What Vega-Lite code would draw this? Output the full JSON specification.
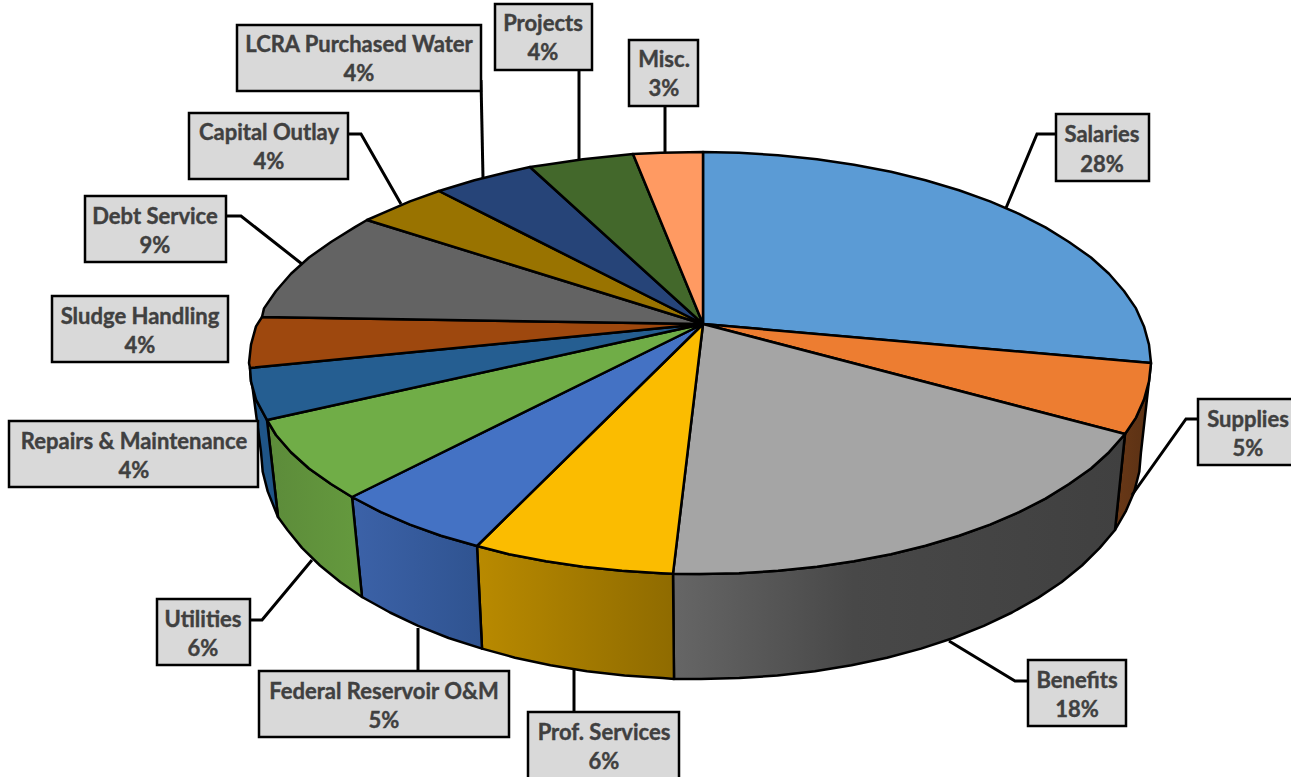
{"$schema":"https://vega.github.io/schema/vega-lite/v6.json","width":1291,"height":777,"padding":0,"autosize":{"type":"fit","contains":"padding"},"background":"white","view":{"stroke":null},
"datasets":{
"side":[
{"slice":"Supplies","i":0,"x":1151,"y":363},{"slice":"Supplies","i":1,"x":1149,"y":381.4},{"slice":"Supplies","i":2,"x":1144,"y":399.6},{"slice":"Supplies","i":3,"x":1136,"y":417.6},{"slice":"Supplies","i":4,"x":1125,"y":434},{"slice":"Supplies","i":5,"x":1115,"y":530},{"slice":"Supplies","i":6,"x":1126,"y":510.8},{"slice":"Supplies","i":7,"x":1134.3,"y":491.4},{"slice":"Supplies","i":8,"x":1139.3,"y":471.8},{"slice":"Supplies","i":9,"x":1141,"y":452},{"slice":"Supplies","i":10,"x":1151,"y":363},
{"slice":"Benefits","i":0,"x":1125,"y":434},{"slice":"Benefits","i":1,"x":1109,"y":452.2},{"slice":"Benefits","i":2,"x":1091,"y":468.5},{"slice":"Benefits","i":3,"x":1069,"y":484},{"slice":"Benefits","i":4,"x":1045.5,"y":498.6},{"slice":"Benefits","i":5,"x":1019,"y":512.2},{"slice":"Benefits","i":6,"x":990,"y":524.6},{"slice":"Benefits","i":7,"x":959,"y":535.8},{"slice":"Benefits","i":8,"x":925.5,"y":545.7},{"slice":"Benefits","i":9,"x":891,"y":554.2},{"slice":"Benefits","i":10,"x":854,"y":561.3},{"slice":"Benefits","i":11,"x":817,"y":566.8},{"slice":"Benefits","i":12,"x":778,"y":570.8},{"slice":"Benefits","i":13,"x":739,"y":573.2},{"slice":"Benefits","i":14,"x":700,"y":574},{"slice":"Benefits","i":15,"x":673,"y":573.7},{"slice":"Benefits","i":16,"x":674,"y":679},{"slice":"Benefits","i":17,"x":701,"y":679},{"slice":"Benefits","i":18,"x":739.3,"y":678.1},{"slice":"Benefits","i":19,"x":777.4,"y":675.6},{"slice":"Benefits","i":20,"x":814.9,"y":671.3},{"slice":"Benefits","i":21,"x":851.5,"y":665.3},{"slice":"Benefits","i":22,"x":887,"y":657.7},{"slice":"Benefits","i":23,"x":921,"y":648.6},{"slice":"Benefits","i":24,"x":953.4,"y":638},{"slice":"Benefits","i":25,"x":983.8,"y":625.9},{"slice":"Benefits","i":26,"x":1012,"y":612.5},{"slice":"Benefits","i":27,"x":1038,"y":597.9},{"slice":"Benefits","i":28,"x":1061.4,"y":582.2},{"slice":"Benefits","i":29,"x":1082,"y":565.5},{"slice":"Benefits","i":30,"x":1099.8,"y":547.9},{"slice":"Benefits","i":31,"x":1115,"y":530},{"slice":"Benefits","i":32,"x":1125,"y":434},
{"slice":"Prof. Services","i":0,"x":673,"y":573.7},{"slice":"Prof. Services","i":1,"x":661,"y":573.2},{"slice":"Prof. Services","i":2,"x":622,"y":570.8},{"slice":"Prof. Services","i":3,"x":583,"y":566.8},{"slice":"Prof. Services","i":4,"x":546,"y":561.3},{"slice":"Prof. Services","i":5,"x":509,"y":554.2},{"slice":"Prof. Services","i":6,"x":477,"y":546},{"slice":"Prof. Services","i":7,"x":482,"y":648.6},{"slice":"Prof. Services","i":8,"x":515,"y":657.7},{"slice":"Prof. Services","i":9,"x":550.5,"y":665.3},{"slice":"Prof. Services","i":10,"x":587,"y":671.3},{"slice":"Prof. Services","i":11,"x":624.6,"y":675.6},{"slice":"Prof. Services","i":12,"x":662.7,"y":678.1},{"slice":"Prof. Services","i":13,"x":674,"y":679},{"slice":"Prof. Services","i":14,"x":673,"y":573.7},
{"slice":"Federal Reservoir O&M","i":0,"x":477,"y":546},{"slice":"Federal Reservoir O&M","i":1,"x":441,"y":535.8},{"slice":"Federal Reservoir O&M","i":2,"x":410,"y":524.6},{"slice":"Federal Reservoir O&M","i":3,"x":381,"y":512.2},{"slice":"Federal Reservoir O&M","i":4,"x":352,"y":497},{"slice":"Federal Reservoir O&M","i":5,"x":362,"y":597},{"slice":"Federal Reservoir O&M","i":6,"x":390,"y":612.5},{"slice":"Federal Reservoir O&M","i":7,"x":418.2,"y":625.9},{"slice":"Federal Reservoir O&M","i":8,"x":448.6,"y":638},{"slice":"Federal Reservoir O&M","i":9,"x":482,"y":648.6},{"slice":"Federal Reservoir O&M","i":10,"x":477,"y":546},
{"slice":"Utilities","i":0,"x":352,"y":497},{"slice":"Utilities","i":1,"x":331,"y":484},{"slice":"Utilities","i":2,"x":309,"y":468.5},{"slice":"Utilities","i":3,"x":291,"y":452.2},{"slice":"Utilities","i":4,"x":276,"y":435},{"slice":"Utilities","i":5,"x":267,"y":420},{"slice":"Utilities","i":6,"x":278,"y":517},{"slice":"Utilities","i":7,"x":287.5,"y":530},{"slice":"Utilities","i":8,"x":302,"y":547.9},{"slice":"Utilities","i":9,"x":320,"y":565.5},{"slice":"Utilities","i":10,"x":340.6,"y":582.2},{"slice":"Utilities","i":11,"x":362,"y":597},{"slice":"Utilities","i":12,"x":352,"y":497},
{"slice":"Repairs & Maintenance","i":0,"x":267,"y":420},{"slice":"Repairs & Maintenance","i":1,"x":256,"y":399.6},{"slice":"Repairs & Maintenance","i":2,"x":251,"y":381.4},{"slice":"Repairs & Maintenance","i":3,"x":250,"y":368},{"slice":"Repairs & Maintenance","i":4,"x":261,"y":452},{"slice":"Repairs & Maintenance","i":5,"x":262.7,"y":471.8},{"slice":"Repairs & Maintenance","i":6,"x":267.7,"y":491.4},{"slice":"Repairs & Maintenance","i":7,"x":278,"y":517},{"slice":"Repairs & Maintenance","i":8,"x":267,"y":420}
],
"top":[
{"slice":"Salaries","i":0,"x":703,"y":324},{"slice":"Salaries","i":1,"x":703,"y":152},{"slice":"Salaries","i":2,"x":739,"y":152.8},{"slice":"Salaries","i":3,"x":778,"y":155.2},{"slice":"Salaries","i":4,"x":817,"y":159.2},{"slice":"Salaries","i":5,"x":854,"y":164.7},{"slice":"Salaries","i":6,"x":891,"y":171.8},{"slice":"Salaries","i":7,"x":925.5,"y":180.3},{"slice":"Salaries","i":8,"x":959,"y":190.2},{"slice":"Salaries","i":9,"x":990,"y":201.4},{"slice":"Salaries","i":10,"x":1019,"y":213.8},{"slice":"Salaries","i":11,"x":1045.5,"y":227.4},{"slice":"Salaries","i":12,"x":1069,"y":242},{"slice":"Salaries","i":13,"x":1091,"y":257.5},{"slice":"Salaries","i":14,"x":1109,"y":273.8},{"slice":"Salaries","i":15,"x":1124,"y":291},{"slice":"Salaries","i":16,"x":1136,"y":308.4},{"slice":"Salaries","i":17,"x":1144,"y":326.4},{"slice":"Salaries","i":18,"x":1149,"y":344.6},{"slice":"Salaries","i":19,"x":1151,"y":363},{"slice":"Salaries","i":20,"x":703,"y":324},
{"slice":"Supplies","i":0,"x":703,"y":324},{"slice":"Supplies","i":1,"x":1151,"y":363},{"slice":"Supplies","i":2,"x":1149,"y":381.4},{"slice":"Supplies","i":3,"x":1144,"y":399.6},{"slice":"Supplies","i":4,"x":1136,"y":417.6},{"slice":"Supplies","i":5,"x":1125,"y":434},{"slice":"Supplies","i":6,"x":703,"y":324},
{"slice":"Benefits","i":0,"x":703,"y":324},{"slice":"Benefits","i":1,"x":1125,"y":434},{"slice":"Benefits","i":2,"x":1109,"y":452.2},{"slice":"Benefits","i":3,"x":1091,"y":468.5},{"slice":"Benefits","i":4,"x":1069,"y":484},{"slice":"Benefits","i":5,"x":1045.5,"y":498.6},{"slice":"Benefits","i":6,"x":1019,"y":512.2},{"slice":"Benefits","i":7,"x":990,"y":524.6},{"slice":"Benefits","i":8,"x":959,"y":535.8},{"slice":"Benefits","i":9,"x":925.5,"y":545.7},{"slice":"Benefits","i":10,"x":891,"y":554.2},{"slice":"Benefits","i":11,"x":854,"y":561.3},{"slice":"Benefits","i":12,"x":817,"y":566.8},{"slice":"Benefits","i":13,"x":778,"y":570.8},{"slice":"Benefits","i":14,"x":739,"y":573.2},{"slice":"Benefits","i":15,"x":700,"y":574},{"slice":"Benefits","i":16,"x":673,"y":573.7},{"slice":"Benefits","i":17,"x":703,"y":324},
{"slice":"Prof. Services","i":0,"x":703,"y":324},{"slice":"Prof. Services","i":1,"x":673,"y":573.7},{"slice":"Prof. Services","i":2,"x":661,"y":573.2},{"slice":"Prof. Services","i":3,"x":622,"y":570.8},{"slice":"Prof. Services","i":4,"x":583,"y":566.8},{"slice":"Prof. Services","i":5,"x":546,"y":561.3},{"slice":"Prof. Services","i":6,"x":509,"y":554.2},{"slice":"Prof. Services","i":7,"x":477,"y":546},{"slice":"Prof. Services","i":8,"x":703,"y":324},
{"slice":"Federal Reservoir O&M","i":0,"x":703,"y":324},{"slice":"Federal Reservoir O&M","i":1,"x":477,"y":546},{"slice":"Federal Reservoir O&M","i":2,"x":441,"y":535.8},{"slice":"Federal Reservoir O&M","i":3,"x":410,"y":524.6},{"slice":"Federal Reservoir O&M","i":4,"x":381,"y":512.2},{"slice":"Federal Reservoir O&M","i":5,"x":352,"y":497},{"slice":"Federal Reservoir O&M","i":6,"x":703,"y":324},
{"slice":"Utilities","i":0,"x":703,"y":324},{"slice":"Utilities","i":1,"x":352,"y":497},{"slice":"Utilities","i":2,"x":331,"y":484},{"slice":"Utilities","i":3,"x":309,"y":468.5},{"slice":"Utilities","i":4,"x":291,"y":452.2},{"slice":"Utilities","i":5,"x":276,"y":435},{"slice":"Utilities","i":6,"x":267,"y":420},{"slice":"Utilities","i":7,"x":703,"y":324},
{"slice":"Repairs & Maintenance","i":0,"x":703,"y":324},{"slice":"Repairs & Maintenance","i":1,"x":267,"y":420},{"slice":"Repairs & Maintenance","i":2,"x":256,"y":399.6},{"slice":"Repairs & Maintenance","i":3,"x":251,"y":381.4},{"slice":"Repairs & Maintenance","i":4,"x":250,"y":368},{"slice":"Repairs & Maintenance","i":5,"x":703,"y":324},
{"slice":"Sludge Handling","i":0,"x":703,"y":324},{"slice":"Sludge Handling","i":1,"x":250,"y":368},{"slice":"Sludge Handling","i":2,"x":249,"y":363},{"slice":"Sludge Handling","i":3,"x":251,"y":344.6},{"slice":"Sludge Handling","i":4,"x":256,"y":326.4},{"slice":"Sludge Handling","i":5,"x":262,"y":317},{"slice":"Sludge Handling","i":6,"x":703,"y":324},
{"slice":"Debt Service","i":0,"x":703,"y":324},{"slice":"Debt Service","i":1,"x":262,"y":317},{"slice":"Debt Service","i":2,"x":264,"y":308.4},{"slice":"Debt Service","i":3,"x":276,"y":291},{"slice":"Debt Service","i":4,"x":291,"y":273.8},{"slice":"Debt Service","i":5,"x":309,"y":257.5},{"slice":"Debt Service","i":6,"x":331,"y":242},{"slice":"Debt Service","i":7,"x":354.5,"y":227.4},{"slice":"Debt Service","i":8,"x":367,"y":220},{"slice":"Debt Service","i":9,"x":703,"y":324},
{"slice":"Capital Outlay","i":0,"x":703,"y":324},{"slice":"Capital Outlay","i":1,"x":367,"y":220},{"slice":"Capital Outlay","i":2,"x":381,"y":213.8},{"slice":"Capital Outlay","i":3,"x":410,"y":201.4},{"slice":"Capital Outlay","i":4,"x":439,"y":191},{"slice":"Capital Outlay","i":5,"x":703,"y":324},
{"slice":"LCRA Purchased Water","i":0,"x":703,"y":324},{"slice":"LCRA Purchased Water","i":1,"x":439,"y":191},{"slice":"LCRA Purchased Water","i":2,"x":474.5,"y":180.3},{"slice":"LCRA Purchased Water","i":3,"x":509,"y":171.8},{"slice":"LCRA Purchased Water","i":4,"x":530,"y":167},{"slice":"LCRA Purchased Water","i":5,"x":703,"y":324},
{"slice":"Projects","i":0,"x":703,"y":324},{"slice":"Projects","i":1,"x":530,"y":167},{"slice":"Projects","i":2,"x":546,"y":164.7},{"slice":"Projects","i":3,"x":583,"y":159.2},{"slice":"Projects","i":4,"x":633,"y":154},{"slice":"Projects","i":5,"x":703,"y":324},
{"slice":"Misc.","i":0,"x":703,"y":324},{"slice":"Misc.","i":1,"x":633,"y":154},{"slice":"Misc.","i":2,"x":661,"y":152.8},{"slice":"Misc.","i":3,"x":703,"y":152},{"slice":"Misc.","i":4,"x":703,"y":324}
],
"leader":[
{"slice":"Salaries","i":0,"x":1056,"y":134},{"slice":"Salaries","i":1,"x":1037,"y":134},{"slice":"Salaries","i":2,"x":1006,"y":208},
{"slice":"Supplies","i":0,"x":1198,"y":419},{"slice":"Supplies","i":1,"x":1186,"y":419},{"slice":"Supplies","i":2,"x":1132,"y":495},
{"slice":"Benefits","i":0,"x":1028,"y":681},{"slice":"Benefits","i":1,"x":1015,"y":681},{"slice":"Benefits","i":2,"x":949,"y":641},
{"slice":"Prof. Services","i":0,"x":574,"y":712},{"slice":"Prof. Services","i":1,"x":574,"y":669},
{"slice":"Federal Reservoir O&M","i":0,"x":418,"y":671},{"slice":"Federal Reservoir O&M","i":1,"x":418,"y":628},
{"slice":"Utilities","i":0,"x":250,"y":620},{"slice":"Utilities","i":1,"x":262,"y":620},{"slice":"Utilities","i":2,"x":312,"y":560},
{"slice":"Debt Service","i":0,"x":226,"y":216},{"slice":"Debt Service","i":1,"x":241,"y":216},{"slice":"Debt Service","i":2,"x":302,"y":264},
{"slice":"Capital Outlay","i":0,"x":348,"y":134},{"slice":"Capital Outlay","i":1,"x":361,"y":134},{"slice":"Capital Outlay","i":2,"x":401,"y":204},
{"slice":"LCRA Purchased Water","i":0,"x":481,"y":80},{"slice":"LCRA Purchased Water","i":1,"x":483,"y":178},
{"slice":"Projects","i":0,"x":579,"y":70},{"slice":"Projects","i":1,"x":579,"y":160},
{"slice":"Misc.","i":0,"x":665,"y":106},{"slice":"Misc.","i":1,"x":665,"y":153}
],
"box":[
{"slice":"Salaries","x":1056,"x2":1149,"y":114,"y2":181},
{"slice":"Supplies","x":1198,"x2":1300,"y":399,"y2":465},
{"slice":"Benefits","x":1028,"x2":1126,"y":660,"y2":726},
{"slice":"Prof. Services","x":528,"x2":679,"y":712,"y2":790},
{"slice":"Federal Reservoir O&M","x":259,"x2":509,"y":671,"y2":737},
{"slice":"Utilities","x":157,"x2":250,"y":599,"y2":665},
{"slice":"Repairs & Maintenance","x":9,"x2":258,"y":421,"y2":487},
{"slice":"Sludge Handling","x":52,"x2":228,"y":296,"y2":362},
{"slice":"Debt Service","x":85,"x2":226,"y":196,"y2":262},
{"slice":"Capital Outlay","x":189,"x2":348,"y":113,"y2":179},
{"slice":"LCRA Purchased Water","x":237,"x2":481,"y":25,"y2":91},
{"slice":"Projects","x":495,"x2":592,"y":4,"y2":70},
{"slice":"Misc.","x":629,"x2":698,"y":40,"y2":106}
],
"label":[
{"text":"Salaries","x":1102,"y":134},{"text":"28%","x":1102,"y":164},
{"text":"Supplies","x":1248,"y":419},{"text":"5%","x":1248,"y":448},
{"text":"Benefits","x":1077,"y":680},{"text":"18%","x":1077,"y":709},
{"text":"Prof. Services","x":604,"y":732},{"text":"6%","x":604,"y":761},
{"text":"Federal Reservoir O&M","x":384,"y":691},{"text":"5%","x":384,"y":720},
{"text":"Utilities","x":203,"y":619},{"text":"6%","x":203,"y":648},
{"text":"Repairs & Maintenance","x":134,"y":441},{"text":"4%","x":134,"y":470},
{"text":"Sludge Handling","x":140,"y":316},{"text":"4%","x":140,"y":345},
{"text":"Debt Service","x":155,"y":216},{"text":"9%","x":155,"y":245},
{"text":"Capital Outlay","x":269,"y":132},{"text":"4%","x":269,"y":161},
{"text":"LCRA Purchased Water","x":359,"y":44},{"text":"4%","x":359,"y":73},
{"text":"Projects","x":543,"y":23},{"text":"4%","x":543,"y":52},
{"text":"Misc.","x":664,"y":59},{"text":"3%","x":664,"y":88}
]},
"encoding":{
"x":{"field":"x","type":"quantitative","scale":{"domain":[0,1291],"nice":false,"zero":false},"axis":null},
"y":{"field":"y","type":"quantitative","scale":{"domain":[777,0],"nice":false,"zero":false},"axis":null}
},
"layer":[
{"data":{"name":"side"},"transform":[{"filter":{"field":"slice","equal":"Supplies"}}],"mark":{"type":"line","stroke":"black","strokeWidth":2.5,"strokeJoin":"round","fill":{"gradient":"linear","x1":0,"y1":0,"x2":1,"y2":0,"stops":[{"offset":0,"color":"#693817"},{"offset":1,"color":"#5a3114"}]}},"encoding":{"order":{"field":"i","type":"quantitative"}}},
{"data":{"name":"side"},"transform":[{"filter":{"field":"slice","equal":"Benefits"}}],"mark":{"type":"line","stroke":"black","strokeWidth":2.5,"strokeJoin":"round","fill":{"gradient":"linear","x1":0,"y1":0,"x2":1,"y2":0,"stops":[{"offset":0,"color":"#666666"},{"offset":0.4,"color":"#484848"},{"offset":1,"color":"#404040"}]}},"encoding":{"order":{"field":"i","type":"quantitative"}}},
{"data":{"name":"side"},"transform":[{"filter":{"field":"slice","equal":"Prof. Services"}}],"mark":{"type":"line","stroke":"black","strokeWidth":2.5,"strokeJoin":"round","fill":{"gradient":"linear","x1":0,"y1":0,"x2":1,"y2":0,"stops":[{"offset":0,"color":"#b98a00"},{"offset":1,"color":"#8f6b00"}]}},"encoding":{"order":{"field":"i","type":"quantitative"}}},
{"data":{"name":"side"},"transform":[{"filter":{"field":"slice","equal":"Federal Reservoir O&M"}}],"mark":{"type":"line","stroke":"black","strokeWidth":2.5,"strokeJoin":"round","fill":{"gradient":"linear","x1":0,"y1":0,"x2":1,"y2":0,"stops":[{"offset":0,"color":"#3c62a8"},{"offset":1,"color":"#2f5390"}]}},"encoding":{"order":{"field":"i","type":"quantitative"}}},
{"data":{"name":"side"},"transform":[{"filter":{"field":"slice","equal":"Utilities"}}],"mark":{"type":"line","stroke":"black","strokeWidth":2.5,"strokeJoin":"round","fill":{"gradient":"linear","x1":0,"y1":0,"x2":1,"y2":0,"stops":[{"offset":0,"color":"#5c8b3a"},{"offset":1,"color":"#659a3e"}]}},"encoding":{"order":{"field":"i","type":"quantitative"}}},
{"data":{"name":"side"},"transform":[{"filter":{"field":"slice","equal":"Repairs & Maintenance"}}],"mark":{"type":"line","stroke":"black","strokeWidth":2.5,"strokeJoin":"round","fill":"#1f5587"},"encoding":{"order":{"field":"i","type":"quantitative"}}},
{"data":{"name":"top"},"mark":{"type":"line","stroke":"black","strokeWidth":2.5,"strokeJoin":"round"},"encoding":{"order":{"field":"i","type":"quantitative"},"fill":{"field":"slice","type":"nominal","legend":null,"scale":{"domain":["Salaries","Supplies","Benefits","Prof. Services","Federal Reservoir O&M","Utilities","Repairs & Maintenance","Sludge Handling","Debt Service","Capital Outlay","LCRA Purchased Water","Projects","Misc."],"range":["#5b9bd5","#ed7d31","#a5a5a5","#fbbc00","#4472c4","#70ad47","#255e91","#9e480e","#636363","#997300","#264478","#43682b","#ff9a62"]}}}},
{"data":{"name":"leader"},"mark":{"type":"line","stroke":"black","strokeWidth":3,"strokeJoin":"miter","clip":true},"encoding":{"order":{"field":"i","type":"quantitative"},"detail":{"field":"slice"}}},
{"data":{"name":"box"},"mark":{"type":"rect","fill":"#d9d9d9","stroke":"black","strokeWidth":2.5,"clip":true},"encoding":{"x2":{"field":"x2"},"y2":{"field":"y2"}}},
{"data":{"name":"label"},"mark":{"type":"text","font":"Lato","fontWeight":"bold","fontSize":22,"fill":"#404040","stroke":"#404040","strokeWidth":0.4,"align":"center","baseline":"middle","dy":1},"encoding":{"text":{"field":"text"}}}
]}
